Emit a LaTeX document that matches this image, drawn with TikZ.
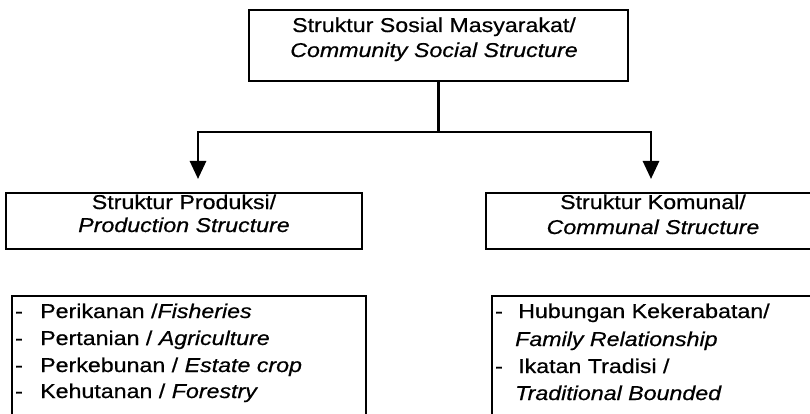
\documentclass[tikz,border=0pt]{standalone}
\usepackage{fontspec}
\setmainfont{Liberation Sans}[FakeStretch=1.16,FakeBold=0.6]
\usetikzlibrary{arrows.meta}
\begin{document}
\begin{tikzpicture}[x=1pt,y=-1pt,
  boxline/.style={draw=black,line width=2.4pt,rectangle,inner sep=0pt},
  conn/.style={draw=black,line width=2.8pt},
  tip/.style={-{Triangle[length=18pt,width=16pt]}},
  txt/.style={inner sep=0pt,anchor=base,font=\fontsize{20}{24}\selectfont},
  ltxt/.style={inner sep=0pt,anchor=base west,font=\fontsize{20}{24}\selectfont},
  dashmark/.style={inner sep=0pt,anchor=base west,font=\fontsize{20}{24}\selectfont}]
\useasboundingbox (0,0) rectangle (810,414);
% boxes
\node[boxline,minimum width=379pt,minimum height=71pt] (top) at (438.5,45.5) {};
\node[boxline,minimum width=356pt,minimum height=56pt] (prod) at (184,221) {};
\node[boxline,minimum width=328pt,minimum height=56pt] (kom) at (650,221) {};
\node[boxline,minimum width=354pt,minimum height=124pt] (listl) at (189,358) {};
\node[boxline,minimum width=324pt,minimum height=124pt] (listr) at (654,358) {};
% texts
\node[txt] (t1) at (434,32) {Struktur Sosial Masyarakat/};
\node[txt] (t2) at (434,57) {\itshape Community Social Structure};
\node[txt] (p1) at (184,209) {Struktur Produksi/};
\node[txt] (p2) at (184,232) {\itshape Production Structure};
\node[txt] (k1) at (653,209) {Struktur Komunal/};
\node[txt] (k2) at (653,234) {\itshape Communal Structure};
% left list
\node[dashmark] (dl1) at (15,318) {-};
\node[dashmark] (dl2) at (15,345) {-};
\node[dashmark] (dl3) at (15,372) {-};
\node[dashmark] (dl4) at (15,398) {-};
\node[ltxt] (l1) at (40,318) {Perikanan /\itshape Fisheries};
\node[ltxt] (l2) at (40,345) {Pertanian / \itshape Agriculture};
\node[ltxt] (l3) at (40,372) {Perkebunan / \itshape Estate crop};
\node[ltxt] (l4) at (40,398) {Kehutanan / \itshape Forestry};
% right list
\node[dashmark] (dr1) at (495,318) {-};
\node[dashmark] (dr3) at (495,373) {-};
\node[ltxt] (r1) at (518,318) {Hubungan Kekerabatan/};
\node[ltxt] (r2) at (515,346) {\itshape Family Relationship};
\node[ltxt] (r3) at (518,373) {Ikatan Tradisi /};
\node[ltxt] (r4) at (515,400) {\itshape Traditional Bounded};
% connectors
\coordinate (j) at (438.5,132);
\coordinate (tipl) at (198,179);
\coordinate (tipr) at (651,179);
\draw[conn] (top.south) -- (j);
\draw[conn,tip] (j) -| (tipl);
\draw[conn,tip] (j) -| (tipr);
\end{tikzpicture}
\end{document}
